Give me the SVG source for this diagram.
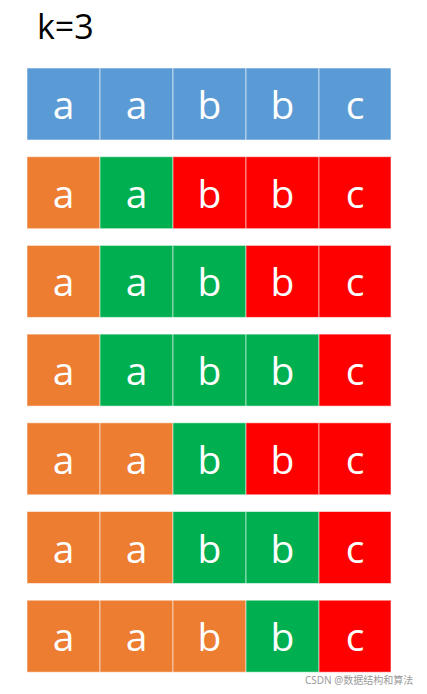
<svg xmlns="http://www.w3.org/2000/svg" width="427" height="694" viewBox="0 0 427 694">
<style>
.c{stroke:#ffffff;stroke-opacity:0.55;stroke-width:1}
.B{fill:#5B9BD5}.O{fill:#ED7D31}.G{fill:#00B050}.R{fill:#FF0000}
.t{font-family:"Open Sans",Lato,sans-serif;font-size:39px;fill:#ffffff;text-anchor:middle}
.k{font-family:"Open Sans",Lato,sans-serif;font-size:34px;fill:#000000}
.w{font-family:"Noto Sans","Noto Sans CJK SC",sans-serif;font-size:10px;fill:#9a9a9a}
</style>
<rect width="427" height="694" fill="#ffffff"/>
<text class="k" x="37" y="38.5">k=3</text>
<g id="row1" transform="translate(27,68)">
<rect class="c B" x="0" y="0" width="73" height="72"/><rect class="c B" x="73" y="0" width="73" height="72"/><rect class="c B" x="146" y="0" width="73" height="72"/><rect class="c B" x="219" y="0" width="73" height="72"/><rect class="c B" x="292" y="0" width="72" height="72"/>
<text class="t" x="36.5" y="51">a</text><text class="t" x="109.5" y="51">a</text><text class="t" x="182.5" y="51">b</text><text class="t" x="255.5" y="51">b</text><text class="t" x="328" y="51">c</text>
</g>
<g id="row2" transform="translate(27,156.7)">
<rect class="c O" x="0" y="0" width="73" height="72"/><rect class="c G" x="73" y="0" width="73" height="72"/><rect class="c R" x="146" y="0" width="73" height="72"/><rect class="c R" x="219" y="0" width="73" height="72"/><rect class="c R" x="292" y="0" width="72" height="72"/>
<text class="t" x="36.5" y="51">a</text><text class="t" x="109.5" y="51">a</text><text class="t" x="182.5" y="51">b</text><text class="t" x="255.5" y="51">b</text><text class="t" x="328" y="51">c</text>
</g>
<g id="row3" transform="translate(27,245.4)">
<rect class="c O" x="0" y="0" width="73" height="72"/><rect class="c G" x="73" y="0" width="73" height="72"/><rect class="c G" x="146" y="0" width="73" height="72"/><rect class="c R" x="219" y="0" width="73" height="72"/><rect class="c R" x="292" y="0" width="72" height="72"/>
<text class="t" x="36.5" y="51">a</text><text class="t" x="109.5" y="51">a</text><text class="t" x="182.5" y="51">b</text><text class="t" x="255.5" y="51">b</text><text class="t" x="328" y="51">c</text>
</g>
<g id="row4" transform="translate(27,334.1)">
<rect class="c O" x="0" y="0" width="73" height="72"/><rect class="c G" x="73" y="0" width="73" height="72"/><rect class="c G" x="146" y="0" width="73" height="72"/><rect class="c G" x="219" y="0" width="73" height="72"/><rect class="c R" x="292" y="0" width="72" height="72"/>
<text class="t" x="36.5" y="51">a</text><text class="t" x="109.5" y="51">a</text><text class="t" x="182.5" y="51">b</text><text class="t" x="255.5" y="51">b</text><text class="t" x="328" y="51">c</text>
</g>
<g id="row5" transform="translate(27,422.8)">
<rect class="c O" x="0" y="0" width="73" height="72"/><rect class="c O" x="73" y="0" width="73" height="72"/><rect class="c G" x="146" y="0" width="73" height="72"/><rect class="c R" x="219" y="0" width="73" height="72"/><rect class="c R" x="292" y="0" width="72" height="72"/>
<text class="t" x="36.5" y="51">a</text><text class="t" x="109.5" y="51">a</text><text class="t" x="182.5" y="51">b</text><text class="t" x="255.5" y="51">b</text><text class="t" x="328" y="51">c</text>
</g>
<g id="row6" transform="translate(27,511.5)">
<rect class="c O" x="0" y="0" width="73" height="72"/><rect class="c O" x="73" y="0" width="73" height="72"/><rect class="c G" x="146" y="0" width="73" height="72"/><rect class="c G" x="219" y="0" width="73" height="72"/><rect class="c R" x="292" y="0" width="72" height="72"/>
<text class="t" x="36.5" y="51">a</text><text class="t" x="109.5" y="51">a</text><text class="t" x="182.5" y="51">b</text><text class="t" x="255.5" y="51">b</text><text class="t" x="328" y="51">c</text>
</g>
<g id="row7" transform="translate(27,600.2)">
<rect class="c O" x="0" y="0" width="73" height="72"/><rect class="c O" x="73" y="0" width="73" height="72"/><rect class="c O" x="146" y="0" width="73" height="72"/><rect class="c G" x="219" y="0" width="73" height="72"/><rect class="c R" x="292" y="0" width="72" height="72"/>
<text class="t" x="36.5" y="51">a</text><text class="t" x="109.5" y="51">a</text><text class="t" x="182.5" y="51">b</text><text class="t" x="255.5" y="51">b</text><text class="t" x="328" y="51">c</text>
</g>
<text class="w" x="305" y="684">CSDN @数据结构和算法</text>
</svg>
